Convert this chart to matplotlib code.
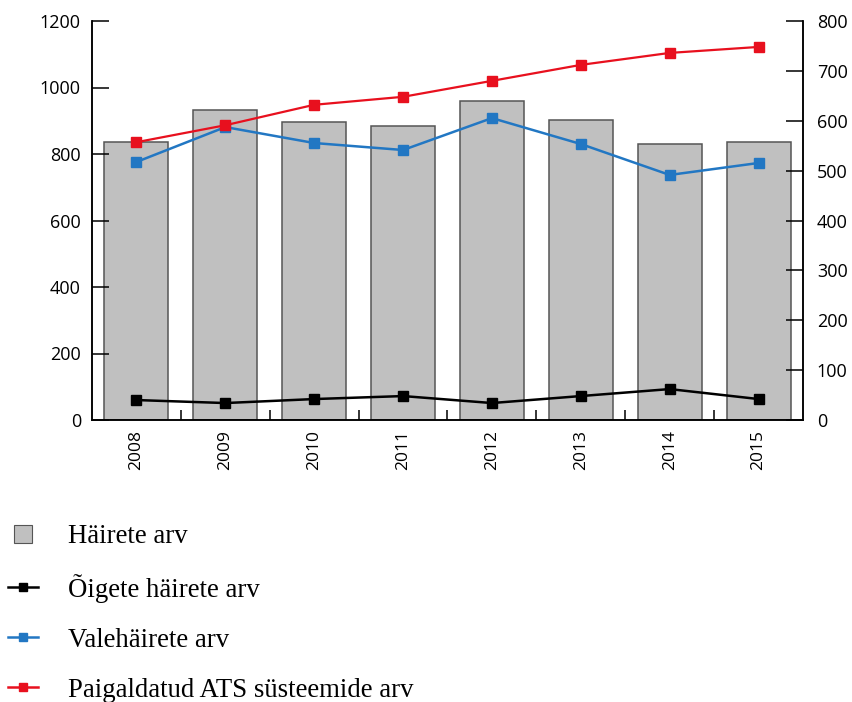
import matplotlib
matplotlib.use("Agg")
import matplotlib.pyplot as plt
from matplotlib.lines import Line2D
import numpy as np

years = ["2008", "2009", "2010", "2011", "2012", "2013", "2014", "2015"]
hairete_arv = [836, 932, 896, 884, 959, 902, 830, 836]
oigete_arv = [60, 51, 63, 72, 51, 72, 93, 63]
vale_arv = [776, 881, 833, 812, 908, 830, 737, 773]
ats_arv = [557, 591, 632, 648, 680, 712, 736, 748]

left_ticks = [0, 200, 400, 600, 800, 1000, 1200]
right_ticks = [0, 100, 200, 300, 400, 500, 600, 700, 800]

BAR_FILL = "#c0c0c0"
BAR_EDGE = "#555555"
RED = "#e8101e"
BLUE = "#2277c3"
TICK_FONT = "Open Sans"

fig = plt.figure(figsize=(8.53, 7.02), dpi=100)
ax = fig.add_axes([92 / 853, 1 - 420 / 702, (803 - 92) / 853, (420 - 21) / 702])
ax2 = ax.twinx()

x = np.arange(len(years))

# bars and the two left-axis series
ax.bar(x, hairete_arv, width=0.72, color=BAR_FILL, edgecolor=BAR_EDGE,
       linewidth=1.1, zorder=1)
ax.plot(x, oigete_arv, color="black", lw=1.8, marker="s", ms=7.5, zorder=3)
ax.plot(x, vale_arv, color=BLUE, lw=1.8, marker="s", ms=7.5, zorder=3)

# installed systems on the right axis
ax2.plot(x, ats_arv, color=RED, lw=1.6, marker="s", ms=7.5, zorder=3)

ax.set_xlim(-0.5, len(years) - 0.5)
ax.set_ylim(0, 1200)
ax2.set_ylim(0, 800)

ax.set_yticks(left_ticks)
ax2.set_yticks(right_ticks)
ax.set_xticks(x)
ax.set_xticklabels(years, rotation=90, fontsize=12.5, family=TICK_FONT)
ax.set_xticks(x[:-1] + 0.5, minor=True)

for t in ax.get_yticklabels() + ax2.get_yticklabels():
    t.set_fontsize(13)
    t.set_family(TICK_FONT)

ax.tick_params(axis="y", direction="in", length=12, width=1.1, pad=8)
ax2.tick_params(axis="y", direction="in", length=12, width=1.1, pad=10)
ax.tick_params(axis="x", which="major", length=0, pad=7)
ax.tick_params(axis="x", which="minor", direction="in", length=7, width=1.1)

for a in (ax, ax2):
    a.spines["top"].set_visible(False)
    for s in ("left", "right", "bottom"):
        a.spines[s].set_linewidth(1.1)

# legend under the chart
handles = [
    Line2D([], [], ls="none", marker="s", ms=12.5, markerfacecolor=BAR_FILL,
           markeredgecolor=BAR_EDGE, markeredgewidth=0.8),
    Line2D([], [], color="black", lw=1.8, marker="s", ms=6),
    Line2D([], [], color=BLUE, lw=1.8, marker="s", ms=6),
    Line2D([], [], color=RED, lw=1.8, marker="s", ms=6),
]
labels = ["Häirete arv", "Õigete häirete arv", "Valehäirete arv",
          "Paigaldatud ATS süsteemide arv"]
fig.legend(handles, labels, loc="upper left",
           bbox_to_anchor=(8 / 853, 1 - 524 / 702),
           frameon=False, prop={"family": "Liberation Serif", "size": 19.3},
           handlelength=1.12, handletextpad=1.12, labelspacing=0.93,
           borderaxespad=0, borderpad=0)

plt.savefig("out.png", dpi=100)
